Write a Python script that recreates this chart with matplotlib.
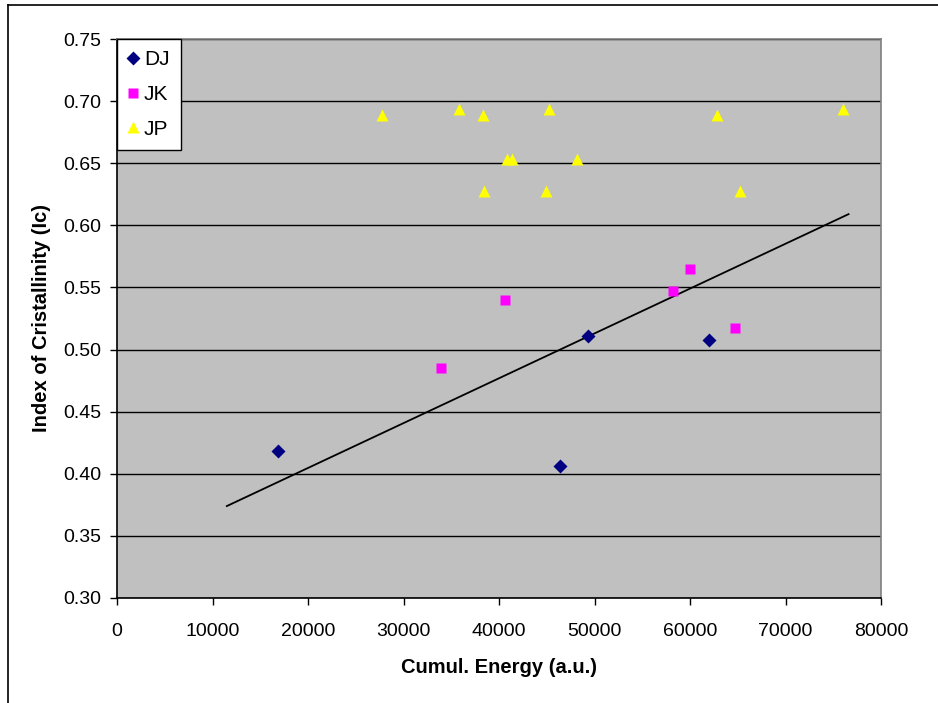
import matplotlib.pyplot as plt
from matplotlib.lines import Line2D

plt.rcParams['font.family'] = ['Liberation Sans', 'DejaVu Sans']

# data
dj_x = [16900, 46400, 49300, 62000]
dj_y = [0.418, 0.406, 0.511, 0.508]

jk_x = [33900, 40600, 58200, 60000, 64700]
jk_y = [0.485, 0.540, 0.547, 0.565, 0.517]

jp_x = [27700, 35800, 38300, 40800, 41400, 38400, 44900, 45200, 48200, 62800, 65200, 76000]
jp_y = [0.689, 0.694, 0.689, 0.653, 0.653, 0.628, 0.628, 0.694, 0.653, 0.689, 0.628, 0.694]

trend_x = [11500, 76600]
trend_y = [0.374, 0.609]

x_ticks = [0, 10000, 20000, 30000, 40000, 50000, 60000, 70000, 80000]
y_ticks = [0.30, 0.35, 0.40, 0.45, 0.50, 0.55, 0.60, 0.65, 0.70, 0.75]

fig = plt.figure(figsize=(9.38, 7.03), dpi=100)
ax = fig.add_axes([117/938, 1-598/703, (881-117)/938, (598-39)/703])
ax.set_facecolor('#C0C0C0')

ax.plot(dj_x, dj_y, 'D', color='#000080', markersize=7, mec='none', label='DJ', zorder=3)
ax.plot(jk_x, jk_y, 's', color='#FF00FF', markersize=7, mec='none', label='JK', zorder=3)
ax.plot(jp_x, jp_y, '^', color='#FFFF00', markersize=8.5, mec='none', label='JP', zorder=3)
ax.plot(trend_x, trend_y, color='black', lw=1.3, zorder=2)

ax.set_xlim(0, 80000)
ax.set_ylim(0.30, 0.75)
ax.set_xticks(x_ticks)
ax.set_xticklabels([str(v) for v in x_ticks])
ax.set_yticks(y_ticks)
ax.set_yticklabels(['%.2f' % v for v in y_ticks])
ax.tick_params(axis='both', labelsize=14, length=5, width=1, color='black', direction='out')
ax.tick_params(axis='x', pad=13)
ax.tick_params(axis='y', pad=6)

ax.yaxis.grid(True, color='black', lw=1)
ax.set_axisbelow(True)

ax.spines['left'].set_color('black')
ax.spines['bottom'].set_color('black')
ax.spines['top'].set_color('#808080')
ax.spines['right'].set_color('#808080')
for s in ax.spines.values():
    s.set_linewidth(1.2)

ax.set_xlabel('Cumul. Energy (a.u.)', fontsize=14.5, fontweight='bold', labelpad=13)
ax.set_ylabel('Index of Cristallinity (Ic)', fontsize=14.5, fontweight='bold', labelpad=9)

leg = ax.legend(loc='upper left', bbox_to_anchor=(0, 1), borderaxespad=0, fontsize=15,
                frameon=True, fancybox=False, edgecolor='black', framealpha=1,
                handlelength=0.4, handletextpad=0.35, labelspacing=0.75,
                borderpad=0.55, markerscale=1.0)
leg.get_frame().set_linewidth(1)

# outer chart border (left and top only visible)
fig.add_artist(Line2D([8/938, 8/938], [0, 1-5/703], color='black', lw=1.2))
fig.add_artist(Line2D([8/938, 1], [1-5/703, 1-5/703], color='black', lw=1.2))

fig.savefig('out.png', dpi=100)
